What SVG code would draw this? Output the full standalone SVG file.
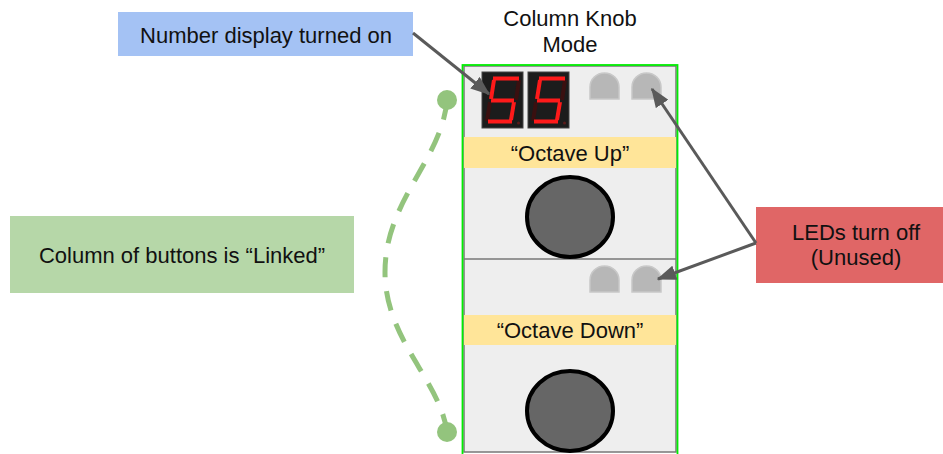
<svg xmlns="http://www.w3.org/2000/svg" width="943" height="454" viewBox="0 0 943 454">
<style>
text{font-family:"Liberation Sans",Arial,sans-serif;font-size:22px;fill:#111;text-anchor:middle}
.led{fill:#b7b7b7;stroke:#c8c8c8;stroke-width:1.5}
.band{fill:#ffe599}
.knob{fill:#666;stroke:#000;stroke-width:4}
.seg{stroke:#ff1a1a;stroke-width:4;fill:none;stroke-linecap:butt}
.dim{stroke:#3a1010;stroke-width:4;fill:none}
.disp{fill:#1c1c1c;stroke:#444;stroke-width:1}
.arrow{stroke:#5a5a5a;stroke-width:3;fill:none;marker-end:url(#ah)}
</style>
<defs>
<marker id="ah" markerWidth="6.5" markerHeight="5" refX="6" refY="2.5" orient="auto" markerUnits="strokeWidth">
<path d="M0,0 L6.5,2.5 L0,5 z" fill="#5a5a5a"/>
</marker>
<g id="digit5">
<path class="dim" d="M519,80 L516,100 M490,102 L487,121"/>
<path class="seg" d="M493,78.5 L519,78.5 M494,80 L491,99 M491,100.5 L514,100.5 M514,102 L511,120 M488,121.5 L512,121.5"/>
<circle cx="518.5" cy="123" r="1.5" fill="#5a1a1a"/>
</g>
</defs>
<rect width="943" height="454" fill="#fff"/>

<g id="panel">
<rect x="464" y="66" width="212" height="386" fill="#eeeeee" stroke="#777" stroke-width="1.5"/>
<line x1="464" y1="259" x2="676" y2="259" stroke="#777" stroke-width="1.5"/>
<rect x="462.5" y="65" width="215" height="392" fill="none" stroke="#00ee00" stroke-width="1.8"/>
</g>

<g id="display">
<rect class="disp" x="482" y="72" width="41" height="56"/>
<rect class="disp" x="528" y="72" width="41" height="56"/>
<use href="#digit5"/>
<use href="#digit5" x="46"/>
</g>

<g id="leds-top">
<path class="led" d="M590,99 V87 A14.5,14 0 0 1 619,87 V99 Z"/>
<path class="led" d="M632,99 V87 A14.5,14 0 0 1 661,87 V99 Z"/>
</g>
<g id="octave-up">
<rect class="band" x="464" y="137" width="212" height="31"/>
<text x="570" y="161">“Octave Up”</text>
</g>
<g id="knob-top"><ellipse class="knob" cx="570" cy="217" rx="43" ry="40"/></g>

<g id="leds-bottom">
<path class="led" d="M590,292 V280 A14.5,14 0 0 1 619,280 V292 Z"/>
<path class="led" d="M632,292 V280 A14.5,14 0 0 1 661,280 V292 Z"/>
</g>
<g id="octave-down">
<rect class="band" x="464" y="315" width="212" height="30"/>
<text x="570" y="338">“Octave Down”</text>
</g>
<g id="knob-bottom"><ellipse class="knob" cx="570" cy="411" rx="43" ry="40"/></g>

<g id="title">
<text x="570" y="26">Column Knob</text>
<text x="570" y="52">Mode</text>
</g>

<g id="number-display-label">
<rect x="118" y="12" width="295" height="44" fill="#a4c2f4"/>
<text x="266" y="43">Number display turned on</text>
</g>

<g id="linked-label">
<rect x="10" y="216" width="344" height="77" fill="#b6d7a8"/>
<text x="182" y="263">Column of buttons is “Linked”</text>
</g>

<g id="leds-label">
<rect x="756" y="207" width="187" height="76" fill="#e06666"/>
<text x="856" y="240">LEDs turn off</text>
<text x="856" y="265">(Unused)</text>
</g>

<g id="connectors">
<path d="M447,100 C442,160 385,200 385,272 C385,340 440,380 447,432" fill="none" stroke="#93c47d" stroke-width="5" stroke-dasharray="20,14"/>
<circle cx="447" cy="100" r="10" fill="#93c47d"/>
<circle cx="447" cy="432" r="10" fill="#93c47d"/>
<line class="arrow" x1="413" y1="33" x2="489" y2="94"/>
<line class="arrow" x1="756" y1="243" x2="652" y2="89"/>
<line class="arrow" x1="756" y1="243" x2="658" y2="279"/>
</g>
</svg>
